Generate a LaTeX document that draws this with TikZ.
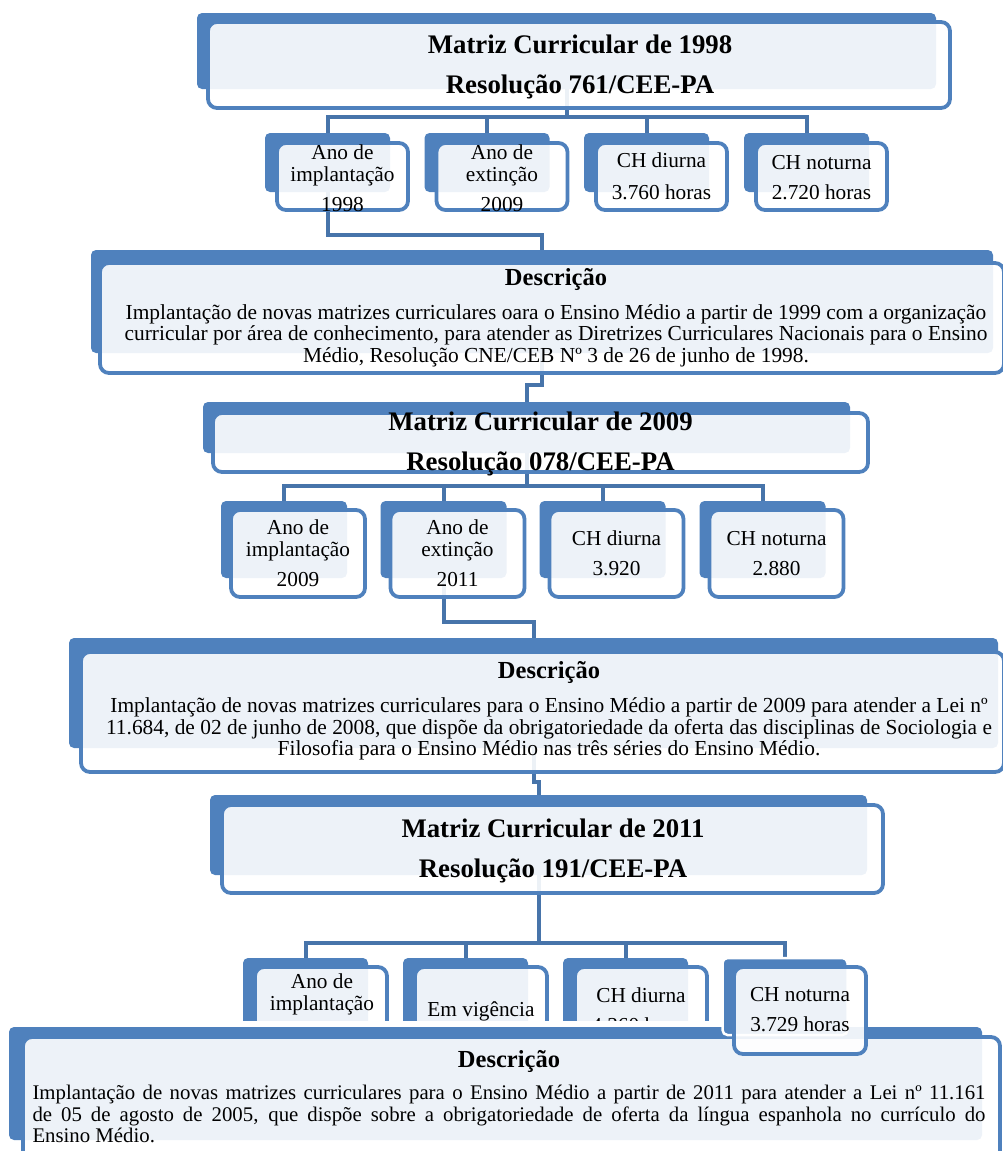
\documentclass[tikz,border=0pt]{standalone}
\usepackage{fontspec}
\setmainfont{Liberation Serif}
\usepackage{tikz}
\usetikzlibrary{backgrounds}
\definecolor{smblue}{HTML}{4F81BD}
\definecolor{smline}{HTML}{4774AA}

\begin{document}
\begin{tikzpicture}[
    x=1pt, y=-1pt,
    bg/.style={
		rectangle,
		rounded corners=5pt,
		fill=smblue,
		inner sep=0pt
	},
    card/.style={
		rectangle,
		rounded corners=9pt,
		draw=smblue,
		line width=3.8pt,
		fill=white,
		fill opacity=0.9,
		inner sep=0pt
	},
    head/.style={
		align=center,
		font=\fontsize{26.8}{40}\selectfont\bfseries
	},
    item/.style={
		align=center,
		font=\fontsize{21.3}{22}\selectfont
	},
    desc/.style={
		align=center,
		font=\fontsize{21.4}{21.5}\selectfont
	},
    link/.style={
		draw=smline,
		line width=4pt
	}
  ]
  \useasboundingbox (0,0) rectangle (1003,1151);

  % first matrix (1998)
  \node [bg, minimum width=739pt, minimum height=76pt] (mat1bg) at (566.5,51) {};
  \node [card, minimum width=742pt, minimum height=86pt] (mat1) at (579,65) {};
  \node [head] (mat1txt) at (580,67) {Matriz Curricular de 1998\\Resolução 761/CEE-PA};

  \node [bg, minimum width=125pt, minimum height=59pt] (info11bg) at (327.5,162.5) {};
  \node [card, minimum width=131pt, minimum height=67pt] (info11) at (342.5,176.5) {};
  \node [item] (info11txt) at (342.5,178.5) {Ano de\\implantação\\[8pt]1998};

  \node [bg, minimum width=125pt, minimum height=59pt] (info12bg) at (487,162.5) {};
  \node [card, minimum width=131pt, minimum height=67pt] (info12) at (502,176.5) {};
  \node [item] (info12txt) at (502,178) {Ano de\\extinção\\[8pt]2009};

  \node [bg, minimum width=125pt, minimum height=59pt] (info13bg) at (646.5,162.5) {};
  \node [card, minimum width=131pt, minimum height=67pt] (info13) at (661.5,176.5) {};
  \node [item] (info13txt) at (info13) {CH diurna\\[10pt]3.760 horas};

  \node [bg, minimum width=125pt, minimum height=59pt] (info14bg) at (806.5,162.5) {};
  \node [card, minimum width=131pt, minimum height=67pt] (info14) at (821.5,176.5) {};
  \node [item] (info14txt) at (821.5,177.5) {CH noturna\\[8pt]2.720 horas};

  \node [bg, minimum width=902pt, minimum height=103pt] (desc1bg) at (542,301.5) {};
  \node [card, minimum width=904pt, minimum height=110pt] (desc1) at (552,318) {};
  \node [desc] (desc1txt) at (556,317.5) {%
    {\fontsize{24.5}{24}\selectfont\bfseries Descrição}\\[12.5pt]
    Implantação de novas matrizes curriculares oara o Ensino Médio a partir de 1999 com a organização\\
    curricular por área de conhecimento, para atender as Diretrizes Curriculares Nacionais para o Ensino\\
    Médio, Resolução CNE/CEB Nº 3 de 26 de junho de 1998.};

  % second matrix (2009)
  \node [bg, minimum width=647pt, minimum height=51pt] (mat2bg) at (526.5,427.5) {};
  \node [card, minimum width=655pt, minimum height=59pt] (mat2) at (540.5,442.5) {};
  \node [head] (mat2txt) at (540.5,443.5) {Matriz Curricular de 2009\\Resolução 078/CEE-PA};

  \node [bg, minimum width=126pt, minimum height=77pt] (info21bg) at (284,539.5) {};
  \node [card, minimum width=134pt, minimum height=87pt] (info21) at (298,553.5) {};
  \node [item] (info21txt) at (info21) {Ano de\\implantação\\[8pt]2009};

  \node [bg, minimum width=126pt, minimum height=77pt] (info22bg) at (443.5,539.5) {};
  \node [card, minimum width=134pt, minimum height=87pt] (info22) at (457.5,553.5) {};
  \node [item] (info22txt) at (info22) {Ano de\\extinção\\[8pt]2011};

  \node [bg, minimum width=126pt, minimum height=77pt] (info23bg) at (602.5,539.5) {};
  \node [card, minimum width=134pt, minimum height=87pt] (info23) at (616.5,553.5) {};
  \node [item] (info23txt) at (info23) {CH diurna\\[8pt]3.920};

  \node [bg, minimum width=126pt, minimum height=77pt] (info24bg) at (762.5,539.5) {};
  \node [card, minimum width=134pt, minimum height=87pt] (info24) at (776.5,553.5) {};
  \node [item] (info24txt) at (info24) {CH noturna\\[8pt]2.880};

  \node [bg, minimum width=929pt, minimum height=110pt] (desc2bg) at (533.5,693) {};
  \node [card, minimum width=923pt, minimum height=120pt] (desc2) at (542.5,712) {};
  \node [desc] (desc2txt) at (549,711) {%
    {\fontsize{24.5}{24}\selectfont\bfseries Descrição}\\[12.5pt]
    Implantação de novas matrizes curriculares para o Ensino Médio a partir de 2009 para atender a Lei nº\\
    11.684, de 02 de junho de 2008, que dispõe da obrigatoriedade da oferta das disciplinas de Sociologia e\\
    Filosofia para o Ensino Médio nas três séries do Ensino Médio.};

  % third matrix (2011)
  \node [bg, minimum width=657pt, minimum height=80pt] (mat3bg) at (538.5,835) {};
  \node [card, minimum width=661pt, minimum height=88pt] (mat3) at (552.5,849) {};
  \node [head] (mat3txt) at (553,851) {Matriz Curricular de 2011\\Resolução 191/CEE-PA};

  \node [bg, minimum width=125pt, minimum height=77pt] (info31bg) at (305.5,996.5) {};
  \node [card, minimum width=132pt, minimum height=87pt] (info31) at (321,1010.5) {};
  \node [item] (info31txt) at (322,994.5) {Ano de\\implantação};

  \node [bg, minimum width=125pt, minimum height=77pt] (info32bg) at (465.5,996.5) {};
  \node [card, minimum width=132pt, minimum height=87pt] (info32) at (481,1010.5) {};
  \node [item] (info32txt) at (481,1011) {Em vigência};

  \node [bg, minimum width=125pt, minimum height=77pt] (info33bg) at (625.5,996.5) {};
  \node [card, minimum width=132pt, minimum height=87pt] (info33) at (641,1010.5) {};
  \node [item] (info33txt) at (641,1010) {CH diurna\\[8pt]4.360 horas};

  \fill [white] (0,1021) rectangle (1003,1151);

  \node [bg, minimum width=973pt, minimum height=113pt] (desc3bg) at (495.5,1083.5) {};
  \node [card, minimum width=977pt, minimum height=123pt] (desc3) at (511.5,1098.5) {};
  \node [desc, font=\fontsize{20.8}{21.5}\selectfont, text width=953pt, align=justify] (desc3txt) at (509,1096.5) {%
    \makebox[953pt]{\fontsize{24.5}{24}\selectfont\bfseries Descrição}\\[11pt]
    Implantação de novas matrizes curriculares para o Ensino Médio a partir de 2011 para atender a Lei nº 11.161\linebreak
    de 05 de agosto de 2005, que dispõe sobre a obrigatoriedade de oferta da língua espanhola no currículo do\linebreak
    Ensino Médio.};

  \node [bg, draw=white, line width=2.5pt, minimum width=125pt, minimum height=77pt] (info34bg) at (785,996.5) {};
  \node [card, minimum width=132pt, minimum height=87pt] (info34) at (800,1010.5) {};
  \node [item] (info34txt) at (800,1010) {CH noturna\\[8pt]3.729 horas};

  % connectors behind the boxes
  \begin{scope}[on background layer]
  \draw [link] (mat1bg.south) -- ++(0,28) -| (info11bg.north);
  \draw [link] (mat1bg.south) -- ++(0,28) -| (info12bg.north);
  \draw [link] (mat1bg.south) -- ++(0,28) -| (info13bg.north);
  \draw [link] (mat1bg.south) -- ++(0,28) -| (info14bg.north);
  \draw [link] (info11bg.south) -- ++(0,43) -| (desc1bg.north);
  \draw [link] (desc1bg.south) -- ++(0,32) -| (mat2bg.north);

  \draw [link] (mat2bg.south) -- ++(0,33) -| (info21bg.north);
  \draw [link] (mat2bg.south) -- ++(0,33) -| (info22bg.north);
  \draw [link] (mat2bg.south) -- ++(0,33) -| (info23bg.north);
  \draw [link] (mat2bg.south) -- ++(0,33) -| (info24bg.north);
  \draw [link] (info22bg.south) -- ++(0,44) -| (desc2bg.north);
  \draw [link] (desc2bg.south) -- ++(0,34) -| (mat3bg.north);

  \draw [link] (mat3bg.south) -- ++(0,68) -| (info31bg.north);
  \draw [link] (mat3bg.south) -- ++(0,68) -| (info32bg.north);
  \draw [link] (mat3bg.south) -- ++(0,68) -| (info33bg.north);
  \draw [link] (mat3bg.south) -- ++(0,68) -| (info34bg.north);
  \end{scope}

\end{tikzpicture}
\end{document}
